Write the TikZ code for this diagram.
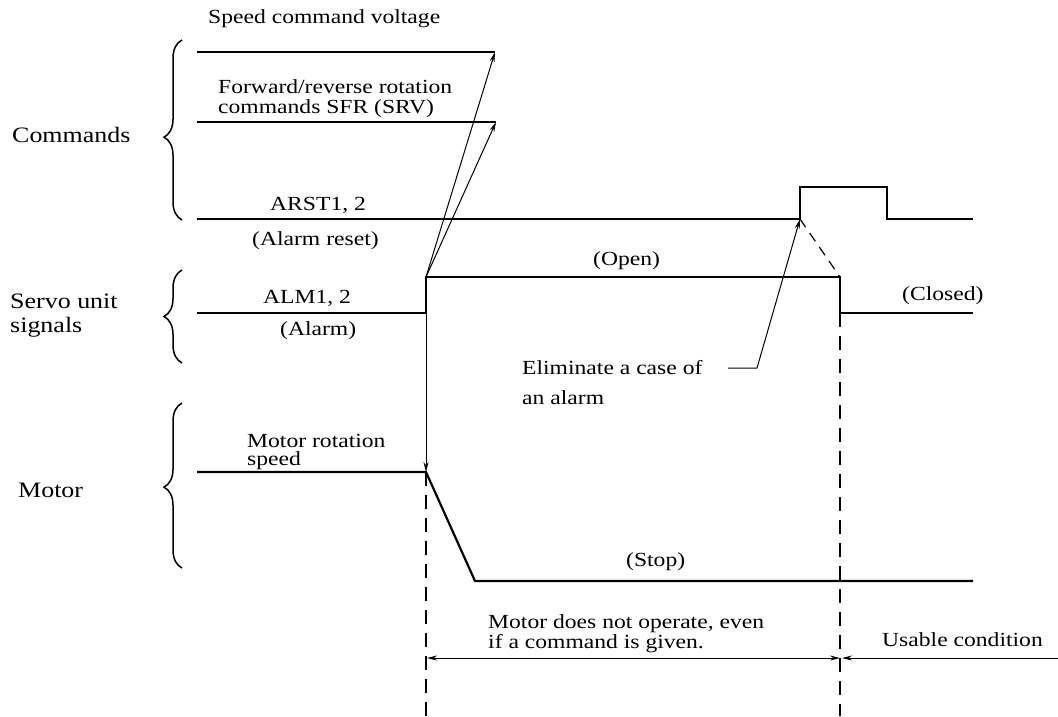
\documentclass[tikz,border=0pt]{standalone}
\usepackage{fontspec}
\setmainfont[FakeStretch=1.18]{Liberation Serif}
\usetikzlibrary{arrows.meta,decorations.pathreplacing}

\begin{document}
\begin{tikzpicture}[x=1pt,y=-1pt]
\tikzstyle{sig}=[line width=2.2pt,line join=miter]
\tikzstyle{lead}=[line width=1pt,-{Stealth[length=10pt,width=5pt]}]
\tikzstyle{dsh}=[line width=1.2pt,dash pattern=on 14pt off 9pt]
\tikzstyle{brc}=[line width=1.5pt,decorate,decoration={brace,amplitude=18pt}]
\tikzstyle{lbl}=[inner sep=0pt,anchor=base west,align=left,font=\fontsize{20}{20}\selectfont]
\tikzstyle{grp}=[inner sep=0pt,anchor=base west,align=left,font=\fontsize{22}{24}\selectfont]
\path[use as bounding box,fill=white] (0,0) rectangle (1058,716);

% time points
\coordinate (sv0) at (197,52);
\coordinate (sv1) at (495,52);
\coordinate (fr0) at (197,122);
\coordinate (fr1) at (496,122);
\coordinate (arUp) at (800,219);
\coordinate (alOn) at (426,277);
\coordinate (alOff) at (840,277);
\coordinate (mStop) at (426,472);
\coordinate (elimEnd) at (728,368);
\coordinate (d0) at (427,658);
\coordinate (d1) at (840,658);
\coordinate (d2) at (1058,658);

% braces and group names
\draw[brc,decoration={aspect=0.46}] (182,220) -- (182,40);
\draw[brc,decoration={aspect=0.5}] (182,363) -- (182,270);
\draw[brc,decoration={aspect=0.49}] (182,568) -- (182,403);
\node[grp] (cmdTxt) at (12,142) {Commands};
\node[grp] (servoTxt) at (10,332) {Servo unit\\signals};
\node[grp] (motorTxt) at (18,497) {Motor};

% signals
\draw[sig] (sv0) -- (sv1);
\draw[sig] (fr0) -- (fr1);
\draw[sig] (197,219) -- (arUp) |- (887,187) -- (887,219) -- (973,219);
\draw[sig] (197,313) -- (426,313) -- (alOn) -- (alOff) -- (840,313) -- (973,313);
\draw[sig] (197,472) -- (mStop) -- (475,581) -- (973,581);

% arrows
\draw[lead] (alOn) -- (sv1);
\draw[lead] (alOn) -- (fr1);
\draw[lead] (alOn) -- (mStop);
\draw[lead] (elimEnd) -- (757,368) -- (arUp);
\draw[dsh] (mStop) -- (426,716);
\draw[dsh] (840,313) -- (840,716);
\draw[dsh,dash pattern=on 10pt off 7pt] (arUp) -- (alOff);
\draw[lead,{Stealth[length=10pt,width=5pt]}-{Stealth[length=10pt,width=5pt]}] (d0) -- (d1);
\draw[lead,shorten >=2pt] (d2) -- (d1);

% labels
\node[lbl] (spdTxt) at (208,23) {Speed command voltage};
\node[lbl] (fwdTxt) at (218,113) {Forward/reverse rotation\\commands SFR (SRV)};
\node[lbl] (arstTxt) at (270,210) {ARST1, 2};
\node[lbl] (arstSub) at (252,245) {(Alarm reset)};
\node[lbl] (almTxt) at (263,303) {ALM1, 2};
\node[lbl] (almSub) at (280,335) {(Alarm)};
\node[lbl] (openTxt) at (593,265) {(Open)};
\node[lbl] (closedTxt) at (902,300) {(Closed)};
\node[lbl,font=\fontsize{20}{30}\selectfont] (elimTxt) at (522,404) {Eliminate a case of\\an alarm};
\node[lbl,font=\fontsize{20}{18}\selectfont] (motSpd) at (247,465) {Motor rotation\\speed};
\node[lbl] (stopTxt) at (626,566) {(Stop)};
\node[lbl] (noopTxt) at (488,648) {Motor does not operate, even\\if a command is given.};
\node[lbl] (useTxt) at (882,646) {Usable condition};
\end{tikzpicture}
\end{document}
